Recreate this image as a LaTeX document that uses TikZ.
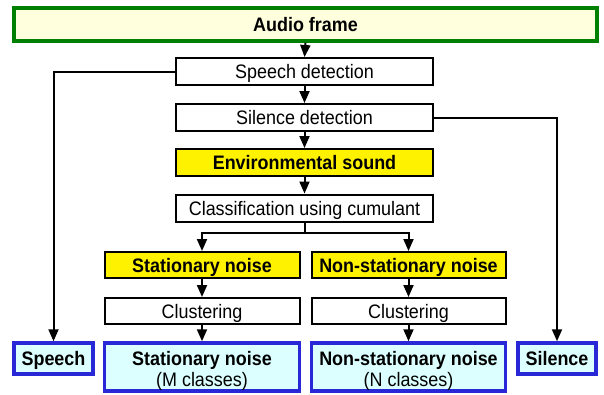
\documentclass[tikz,border=0pt]{standalone}
\usepackage{fontspec}
\setmainfont{Liberation Sans}[FakeStretch=0.92]
\usetikzlibrary{arrows.meta}
\definecolor{frgreen}{RGB}{0,128,0}
\definecolor{paleyel}{RGB}{255,255,222}
\definecolor{resblue}{RGB}{40,40,215}
\definecolor{palecyan}{RGB}{220,255,255}
\newcommand{\twoline}[2]{\raisebox{-10pt}[0pt][0pt]{\begin{tabular}{@{}c@{}}\textbf{#1}\\#2\end{tabular}}}
\tikzset{
  txt/.style={font=\fontsize{19.5}{21}\selectfont, text height=14pt, text depth=0pt},
  box/.style={txt, draw=black, line width=2pt, fill=white, inner sep=0pt, minimum height=27pt},
  ybox/.style={box, fill=yellow, font=\fontsize{19.5}{21}\selectfont\bfseries},
  rbox/.style={draw=resblue, line width=3.5pt, fill=palecyan, inner sep=0pt,
    font=\fontsize{19.5}{20.5}\selectfont, text height=0pt, text depth=0pt},
  sbox/.style={rbox, font=\fontsize{19.5}{21}\selectfont\bfseries, text height=14pt, text depth=0pt},
  topbox/.style={txt, draw=frgreen, line width=3.5pt, fill=paleyel, inner sep=0pt,
    font=\fontsize{19.5}{21}\selectfont\bfseries},
  conn/.style={line width=2pt, -{Triangle[length=12pt,width=10pt]}},
}
\begin{document}
\begin{tikzpicture}[x=1pt,y=-1pt]
\useasboundingbox (0,0) rectangle (604,394);
\node[topbox, minimum width=583pt, minimum height=33pt] (audio) at (305.5,24.5) {Audio frame};
\node[box, minimum width=257pt] (sd) at (304.5,71.5) {Speech detection};
\node[box, minimum width=257pt] (sil) at (304.5,117.5) {Silence detection};
\node[ybox, minimum width=257pt] (env) at (304.5,162.5) {Environmental sound};
\node[box, minimum width=257pt] (cls) at (304.5,208) {Classification using cumulant};
\node[ybox, minimum width=195pt, minimum height=26pt] (stat) at (202,265) {Stationary noise};
\node[ybox, minimum width=194pt, minimum height=26pt] (nstat) at (408.5,265) {Non-stationary noise};
\node[box, minimum width=195pt, minimum height=26pt] (clu1) at (202,311) {Clustering};
\node[box, minimum width=194pt, minimum height=26pt] (clu2) at (408.5,311) {Clustering};
\node[rbox, minimum width=195pt, minimum height=48pt] (sres) at (202,367) {\twoline{Stationary noise}{(M classes)}};
\node[rbox, minimum width=194pt, minimum height=48pt] (nres) at (408.5,367) {\twoline{Non-stationary noise}{(N classes)}};
\node[sbox, minimum width=79pt, minimum height=31pt] (speech) at (53.5,358.5) {Speech};
\node[sbox, minimum width=78pt, minimum height=31pt] (silence) at (557,358.5) {Silence};
\coordinate (branch) at (304.5,233);
\draw[conn] (audio.south) -- (sd.north);
\draw[conn] (sd.south) -- (sil.north);
\draw[conn] (sil.south) -- (env.north);
\draw[conn] (env.south) -- (cls.north);
\draw[line width=2pt] (cls.south) -- (branch);
\draw[conn] (branch) -| (stat.north);
\draw[conn] (branch) -| (nstat.north);
\draw[conn] (stat.south) -- (clu1.north);
\draw[conn] (clu1.south) -- (sres.north);
\draw[conn] (nstat.south) -- (clu2.north);
\draw[conn] (clu2.south) -- (nres.north);
\draw[conn] (sd.west) -| (speech.north);
\draw[conn] (sil.east) -| (silence.north);
\end{tikzpicture}
\end{document}
